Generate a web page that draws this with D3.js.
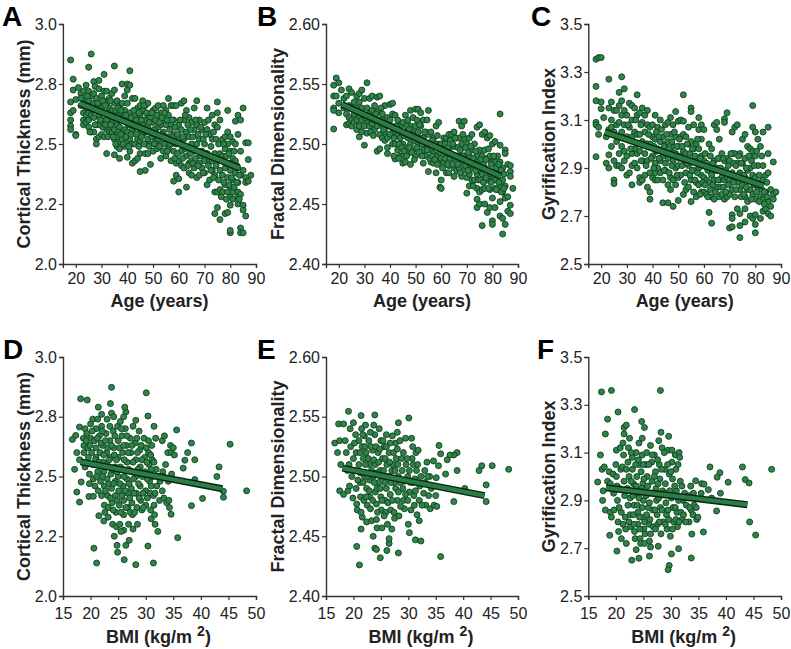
<!DOCTYPE html>
<html>
<head>
<meta charset="utf-8">
<script src="https://cdn.jsdelivr.net/npm/d3@7"></script>
<style>
body { margin: 0; background: #fff; }
text { font-family: "Liberation Sans", Arial, sans-serif; fill: #222; }
</style>
</head>
<body>
<div id="canvas"></div>
<script>
"use strict"

/* points, [age or bmi, value] */
let ageThickness = [[18,2.85],[18,2.675],[18,2.63],[18,2.6],[18,2.575],[18,2.56],[19,2.77],[19,2.725],[19,2.64],[20,2.685],[20,2.54],[20,2.535],[21,2.735],[22,2.71],[22,2.69],[22,2.66],[23,2.72],[23,2.63],[23,2.6],[23,2.58],[24,2.745],[24,2.68],[24,2.65],[24,2.62],[24,2.59],[25,2.82],[25,2.72],[25,2.68],[25,2.63],[25,2.6],[25,2.57],[26,2.875],[26,2.7],[26,2.66],[26,2.62],[26,2.55],[27,2.76],[27,2.71],[27,2.67],[27,2.61],[27.5,2.74],[27,2.55],[28,2.69],[28,2.64],[28,2.58],[28,2.52],[28,2.5],[29,2.765],[29,2.73],[29,2.66],[29,2.62],[29,2.58],[29,2.53],[30,2.7],[30,2.65],[30,2.6],[30,2.54],[31,2.79],[31,2.72],[31,2.68],[31,2.63],[31,2.53],[32,2.72],[32,2.67],[32,2.6],[32,2.56],[32,2.46],[33,2.69],[33,2.65],[33,2.62],[33,2.57],[33,2.55],[34,2.71],[34,2.64],[34,2.59],[34,2.55],[35,2.825],[35,2.725],[35,2.67],[35,2.61],[35,2.56],[35,2.52],[35,2.455],[36,2.68],[36,2.63],[36,2.58],[36,2.53],[36,2.49],[37,2.66],[37,2.62],[37,2.57],[37,2.51],[37,2.48],[37,2.44],[38,2.75],[38,2.67],[38,2.63],[38,2.55],[38,2.52],[39,2.7],[39,2.64],[39,2.6],[39,2.56],[39,2.49],[40,2.75],[40,2.725],[40,2.67],[40,2.61],[40,2.55],[40,2.51],[40,2.445],[41,2.805],[41,2.745],[41,2.63],[41,2.59],[41,2.52],[41,2.47],[42,2.69],[42,2.61],[42,2.56],[42,2.5],[42,2.42],[43,2.69],[43,2.62],[43,2.57],[43,2.5],[43,2.43],[44,2.65],[44,2.59],[44,2.52],[44,2.44],[45,2.66],[45,2.62],[45,2.56],[45,2.51],[45,2.46],[45,2.385],[46,2.68],[46,2.64],[46,2.58],[46,2.54],[47,2.66],[47,2.6],[47,2.5],[47,2.46],[47,2.39],[48,2.67],[48,2.62],[48,2.57],[48,2.52],[48,2.46],[49,2.61],[49,2.55],[49,2.5],[49,2.415],[50,2.64],[50,2.59],[50,2.53],[50,2.47],[51,2.65],[51,2.6],[51,2.56],[51,2.51],[52,2.66],[52,2.62],[52,2.57],[52,2.52],[53,2.63],[53,2.58],[53,2.5],[53,2.44],[54,2.66],[54,2.6],[54,2.55],[54,2.47],[55,2.64],[55,2.58],[55,2.52],[55,2.45],[56,2.69],[56,2.62],[56,2.53],[56,2.48],[57,2.66],[57,2.58],[57,2.5],[57,2.43],[58,2.66],[58,2.6],[58,2.54],[58,2.47],[58,2.345],[59,2.66],[59,2.57],[59,2.5],[59,2.42],[59,2.37],[60,2.58],[60,2.52],[60,2.43],[60,2.355],[60,2.3],[61,2.67],[61,2.56],[61,2.47],[61,2.41],[62,2.68],[62,2.6],[62,2.52],[62,2.4],[63,2.64],[63,2.55],[63,2.45],[63,2.32],[64,2.61],[64,2.53],[64,2.42],[64,2.38],[65,2.59],[65,2.5],[65,2.43],[65,2.37],[66,2.65],[66,2.56],[66,2.47],[66,2.4],[67,2.68],[67,2.58],[67,2.5],[67,2.36],[68,2.6],[68,2.52],[68,2.42],[68,2.37],[69,2.56],[69,2.47],[69,2.4],[70,2.59],[70,2.5],[70,2.43],[70,2.38],[71,2.65],[71,2.56],[71,2.46],[71,2.33],[72,2.54],[72,2.43],[72,2.35],[73,2.62],[73,2.52],[73,2.43],[73,2.39],[74,2.58],[74,2.46],[74,2.37],[74,2.3],[74,2.21],[75,2.675],[75,2.63],[75,2.57],[75,2.44],[75,2.235],[75,2.3],[76,2.6],[76,2.46],[76,2.39],[76,2.31],[76,2.185],[77,2.52],[77,2.45],[77,2.37],[77,2.3],[78,2.53],[78,2.48],[78,2.4],[78,2.33],[78,2.21],[79,2.64],[79,2.55],[79,2.5],[79,2.42],[79,2.36],[79,2.3],[79,2.215],[80,2.53],[80,2.47],[80,2.39],[80,2.32],[80,2.28],[80,2.245],[80,2.13],[80,2.14],[81,2.51],[81,2.44],[81,2.35],[81,2.3],[81,2.27],[82,2.595],[82,2.5],[82,2.43],[82,2.38],[83,2.62],[83,2.54],[83,2.4],[83,2.34],[83,2.3],[83,2.25],[83,2.28],[84,2.6],[84,2.47],[84,2.37],[84,2.29],[84,2.15],[84,2.13],[85,2.65],[85,2.39],[85,2.245],[85,2.225],[85,2.13],[86,2.505],[86,2.36],[86,2.34],[86,2.2],[87,2.505],[87,2.435],[87,2.345],[88,2.37],
[24.5,2.7],[25.5,2.55],[26.5,2.64],[27.5,2.58],[28.5,2.67],[29.5,2.6],[30.5,2.68],[30.5,2.57],[31.5,2.66],[31.5,2.58],[32.5,2.63],[32.5,2.53],[33.5,2.68],[33.5,2.58],[34.5,2.62],[34.5,2.53],[35.5,2.64],[35.5,2.5],[36.5,2.65],[36.5,2.55],[37.5,2.64],[37.5,2.54],[38.5,2.6],[38.5,2.5],[39.5,2.62],[39.5,2.53],[40.5,2.58],[40.5,2.49],[41.5,2.61],[41.5,2.54],[42.5,2.64],[42.5,2.58],[43.5,2.6],[43.5,2.54],[44.5,2.63],[44.5,2.49],[45.5,2.6],[45.5,2.53],[46.5,2.66],[46.5,2.5],[47.5,2.63],[47.5,2.55],[48.5,2.59],[48.5,2.49],[49.5,2.63],[49.5,2.53],[50.5,2.56],[50.5,2.5],[51.5,2.62],[51.5,2.48],[52.5,2.59],[52.5,2.49],[53.5,2.61],[53.5,2.54],[54.5,2.63],[54.5,2.5],[55.5,2.6],[55.5,2.47],[56.5,2.56],[56.5,2.5],[57.5,2.6],[57.5,2.53],[58.5,2.57],[58.5,2.44],[59.5,2.54],[59.5,2.46],[60.5,2.6],[60.5,2.5],[61.5,2.53],[61.5,2.44],[62.5,2.62],[62.5,2.48],[63.5,2.58],[63.5,2.41],[64.5,2.56],[64.5,2.46],[65.5,2.53],[65.5,2.42],[66.5,2.6],[66.5,2.44],[67.5,2.54],[67.5,2.41],[68.5,2.57],[68.5,2.45],[69.5,2.52],[69.5,2.38],[70.5,2.54],[70.5,2.46],[71.5,2.6],[71.5,2.41],[72.5,2.49],[72.5,2.39],[73.5,2.55],[73.5,2.36],[74.5,2.52],[74.5,2.41],[75.5,2.5],[75.5,2.35],[76.5,2.43],[76.5,2.28],[77.5,2.5],[77.5,2.34],[78.5,2.45],[78.5,2.27],[79.5,2.46],[79.5,2.33],[80.5,2.42],[80.5,2.36],[81.5,2.47],[81.5,2.32],[82.5,2.41],[82.5,2.34],[83.5,2.37],[83.5,2.27]]

let ageFractal = [[18,2.5125],[18,2.549],[18,2.54],[18,2.53],[18,2.528],[19,2.555],[19,2.54],[20,2.551],[20,2.534],[20,2.526],[21,2.545],[22,2.538],[22,2.53],[23,2.54],[23,2.525],[23,2.516],[24,2.546],[24,2.532],[24,2.522],[24,2.517],[25,2.543],[25,2.53],[25,2.52],[25,2.515],[26,2.535],[26,2.525],[26,2.518],[27,2.54],[27,2.53],[27,2.52],[27,2.512],[28,2.542],[28,2.535],[28,2.523],[28,2.515],[28,2.506],[29,2.545],[29,2.53],[29,2.52],[29,2.51],[30,2.538],[30,2.515],[30,2.499],[31,2.551],[31,2.53],[31,2.52],[31,2.509],[32,2.538],[32,2.525],[32,2.515],[33,2.54],[33,2.528],[33,2.517],[34,2.532],[34,2.52],[34,2.512],[35,2.539],[35,2.527],[35,2.515],[35,2.494],[36,2.54],[36,2.52],[36,2.508],[36,2.496],[37,2.525],[37,2.515],[37,2.505],[38,2.532],[38,2.52],[38,2.51],[38,2.503],[39,2.522],[39,2.515],[39,2.505],[39,2.497],[39,2.492],[40,2.533],[40,2.52],[40,2.508],[41,2.534],[41,2.525],[41,2.513],[41,2.5],[42,2.524],[42,2.51],[42,2.5],[42,2.4875],[43,2.52],[43,2.508],[43,2.495],[44,2.515],[44,2.505],[44,2.49],[45,2.518],[45,2.5],[45,2.49],[45,2.484],[46,2.524],[46,2.51],[46,2.497],[46,2.485],[47,2.52],[47,2.505],[47,2.492],[48,2.528],[48,2.515],[48,2.5],[48,2.483],[49,2.522],[49,2.51],[49,2.495],[50,2.529],[50,2.515],[50,2.505],[50,2.49],[51,2.529],[51,2.51],[51,2.5],[52,2.526],[52,2.515],[52,2.505],[53,2.52],[53,2.505],[53,2.495],[53,2.484],[54,2.51],[54,2.5],[54,2.49],[55,2.528],[55,2.508],[55,2.495],[55,2.477],[56,2.51],[56,2.495],[56,2.485],[57,2.505],[57,2.492],[57,2.484],[58,2.515],[58,2.5],[58,2.49],[58,2.476],[59,2.518],[59,2.5],[59,2.485],[59.5,2.464],[60,2.5],[60,2.488],[60,2.47],[60,2.463],[61,2.505],[61,2.495],[61,2.485],[62,2.505],[62,2.49],[62,2.476],[63,2.508],[63,2.495],[63,2.482],[63,2.476],[64,2.508],[64,2.49],[65,2.51],[65,2.498],[65,2.48],[65,2.473],[66,2.505],[66,2.49],[66,2.478],[67,2.519],[67,2.505],[67,2.49],[67,2.48],[68,2.515],[68,2.5],[68,2.485],[68,2.473],[69,2.519],[69,2.505],[69,2.49],[69,2.478],[70,2.5],[70,2.485],[70,2.472],[70,2.459],[71,2.505],[71,2.49],[71,2.475],[71,2.465],[72,2.508],[72,2.495],[72,2.48],[72,2.47],[73,2.5],[73,2.487],[73,2.47],[74,2.514],[74,2.49],[74,2.475],[74,2.463],[74,2.454],[74,2.447],[75,2.516],[75,2.495],[75,2.478],[75,2.46],[75,2.45],[76,2.508],[76,2.49],[76,2.475],[76,2.462],[76,2.432],[77,2.51],[77,2.495],[77,2.48],[77,2.463],[77,2.45],[78,2.505],[78,2.488],[78,2.47],[78,2.443],[79,2.507],[79,2.49],[79,2.475],[79,2.462],[79,2.447],[80,2.5],[80,2.485],[80,2.47],[80,2.455],[80,2.436],[80,2.433],[81,2.502],[81,2.485],[81,2.47],[81,2.447],[81,2.463],[82,2.49],[82,2.475],[82,2.462],[83,2.525],[83,2.499],[83,2.485],[83,2.465],[83,2.452],[83,2.44],[84,2.48],[84,2.47],[84,2.46],[84,2.438],[84,2.425],[85,2.495],[85,2.492],[85,2.465],[85,2.455],[85,2.433],[86,2.483],[86,2.456],[86,2.444],[87,2.482],[87,2.477],[87,2.473],[87,2.449],[87,2.442],[88,2.463],
[29.5,2.525],[30.5,2.522],[32.5,2.51],[33.5,2.507],[34.5,2.525],[36.5,2.53],[37.5,2.512],[40.5,2.515],[41.5,2.505],[41.5,2.49],[42.5,2.515],[43.5,2.5],[43.5,2.488],[44.5,2.497],[44.5,2.51],[45.5,2.507],[45.5,2.494],[46.5,2.515],[46.5,2.49],[47.5,2.512],[47.5,2.497],[48.5,2.508],[48.5,2.493],[49.5,2.503],[49.5,2.487],[50.5,2.52],[50.5,2.497],[51.5,2.516],[51.5,2.493],[52.5,2.5],[52.5,2.49],[53.5,2.51],[54.5,2.52],[54.5,2.495],[55.5,2.5],[55.5,2.488],[56.5,2.503],[56.5,2.49],[57.5,2.5],[57.5,2.487],[58.5,2.507],[58.5,2.483],[59.5,2.493],[60.5,2.495],[60.5,2.48],[61.5,2.5],[61.5,2.488],[62.5,2.497],[62.5,2.483],[63.5,2.503],[63.5,2.488],[64.5,2.5],[64.5,2.483],[65.5,2.505],[65.5,2.488],[66.5,2.497],[66.5,2.483],[67.5,2.495],[67.5,2.476],[68.5,2.508],[68.5,2.49],[69.5,2.497],[69.5,2.482],[70.5,2.493],[70.5,2.478],[71.5,2.498],[71.5,2.483],[72.5,2.488],[72.5,2.465],[73.5,2.494],[73.5,2.478],[74.5,2.483],[74.5,2.47],[75.5,2.487],[75.5,2.47],[76.5,2.483],[76.5,2.468],[77.5,2.487],[77.5,2.472],[78.5,2.496],[78.5,2.463],[79.5,2.483],[79.5,2.468],[80.5,2.477],[80.5,2.49],[81.5,2.48],[81.5,2.462],[82.5,2.483],[82.5,2.468],[83.5,2.478],[83.5,2.46],[84.5,2.475],[84.5,2.463]]

let ageGyrification = [[18,3.353],[18,3.24],[18,3.18],[18,3.09],[18,3.08],[18,2.947],[19,3.36],[19,3.07],[19,3.04],[20,3.36],[20,3.175],[20,3.147],[21,3.11],[22,3.03],[22,2.92],[23,3.27],[23,3.15],[23,3.06],[23,2.955],[23,2.9],[24,3.175],[24,3.1],[24,3.07],[24,2.99],[25,3.14],[25,3.05],[25,2.93],[25,2.85],[25,2.835],[26,3.14],[26,3.08],[26,3.01],[26,2.91],[27,3.215],[27,3.16],[27,3.09],[27,3.03],[27,2.96],[27,2.91],[28,3.28],[28,3.18],[28,3.12],[28,3.05],[28,2.99],[28,2.9],[29,3.23],[29,3.14],[29,3.08],[29,2.97],[29,2.93],[30,3.12],[30,3.03],[30,2.95],[30,2.87],[31,3.17],[31,3.07],[31,3.02],[31,2.88],[32,3.16],[32,3.1],[32,3.03],[32,2.96],[32,2.91],[32,2.83],[33,3.15],[33,3.05],[33,2.98],[33,2.92],[34,3.205],[34,3.12],[34,3.04],[34,2.96],[34,2.9],[35,3.13],[35,3.04],[35,2.97],[35,2.86],[35,2.84],[36,3.15],[36,3.09],[36,3.01],[36,2.93],[36,2.85],[37,3.12],[37,3.05],[37,2.96],[37,2.87],[38,3.14],[38,3.08],[38,3.0],[38,2.93],[38,2.82],[39,3.07],[39,3.0],[39,2.88],[39,2.77],[39,2.8],[40,3.08],[40,3.03],[40,2.95],[40,2.86],[41,3.12],[41,3.02],[41,2.92],[41,2.88],[41,2.85],[42,3.07],[42,2.98],[42,2.9],[42,2.85],[43,3.1],[43,3.01],[43,2.93],[43,2.88],[44,3.03],[44,2.95],[44,2.85],[44,2.755],[45,3.08],[45,3.0],[45,2.92],[45,2.89],[46,3.09],[46,3.01],[46,2.94],[46,2.83],[46,2.755],[47,3.11],[47,3.04],[47,2.97],[47,2.86],[47,2.81],[48,3.08],[48,2.99],[48,2.93],[48,2.85],[48,2.74],[49,3.135],[49,3.03],[49,2.96],[49,2.9],[49,2.83],[50,3.095],[50,2.99],[50,2.91],[50,2.86],[50,2.765],[51,3.1],[51,3.03],[51,2.95],[51,2.87],[52,3.205],[52,3.095],[52,3.04],[52,2.97],[52,2.79],[53,3.03],[53,2.96],[53,2.88],[53,2.81],[54,3.07],[54,3.0],[54,2.91],[54,2.82],[55,3.15],[55,3.135],[55,3.01],[55,2.93],[55,2.85],[55,2.76],[56,3.08],[56,2.98],[56,2.89],[56,2.8],[57,3.0],[57,2.93],[57,2.84],[57,2.78],[58,3.11],[58,3.06],[58,2.98],[58,2.9],[58,2.83],[59,3.08],[59,3.02],[59,2.95],[59,2.87],[59,2.8],[60,3.06],[60,2.93],[60,2.86],[60,2.8],[61,2.92],[61,2.85],[61,2.79],[62,3.0],[62,2.9],[62,2.84],[62,2.715],[63,2.98],[63,2.87],[63,2.78],[63,2.67],[64,3.08],[64,2.93],[64,2.85],[64,2.77],[65,3.09],[65,3.06],[65,2.9],[65,2.82],[66,3.02],[66,2.94],[66,2.85],[66,2.78],[67,2.96],[67,2.86],[67,2.79],[68,3.105],[68,3.09],[68,2.93],[68,2.85],[68,2.77],[69,3.13],[69,2.94],[69,2.86],[69,2.78],[70,2.93],[70,2.85],[70,2.79],[70,2.65],[71,3.05],[71,2.96],[71,2.88],[71,2.81],[71,2.705],[71,2.69],[71,2.655],[72,3.07],[72,2.96],[72,2.86],[72,2.78],[73,3.08],[73,2.92],[73,2.84],[73,2.73],[74,2.96],[74,2.88],[74,2.81],[74,2.71],[74,2.66],[74,2.61],[75,3.02],[75,2.92],[75,2.83],[76,3.04],[76,2.94],[76,2.86],[76,2.78],[76,2.73],[76,2.675],[77,2.99],[77,2.89],[77,2.81],[77,2.76],[78,2.98],[78,2.9],[78,2.81],[78,2.7],[79,3.16],[79,3.07],[79,2.97],[79,2.87],[79,2.79],[79,2.69],[80,3.05],[80,2.95],[80,2.86],[80,2.77],[80,2.705],[80,2.665],[80,2.63],[81,3.02],[81,2.91],[81,2.82],[82,2.99],[82,2.84],[82,2.78],[82,2.69],[83,3.05],[83,2.91],[83,2.85],[83,2.77],[83,2.72],[84,2.87],[84,2.8],[84,2.73],[85,3.07],[85,2.96],[85,2.88],[85,2.76],[85,2.71],[86,2.81],[86,2.74],[86,2.7],[87,2.925],[87,2.79],[87,2.77],[88,2.8],
[30.5,3.08],[31.5,2.98],[33.5,3.1],[34.5,3.0],[35.5,3.08],[35.5,2.93],[37.5,3.0],[37.5,2.91],[38.5,3.04],[39.5,2.94],[40.5,2.99],[40.5,2.9],[41.5,3.05],[41.5,2.97],[42.5,3.03],[42.5,2.94],[43.5,3.06],[43.5,2.97],[44.5,2.99],[44.5,2.89],[45.5,3.04],[45.5,2.96],[46.5,2.98],[46.5,2.88],[47.5,3.01],[47.5,2.91],[48.5,3.05],[48.5,2.96],[49.5,2.99],[49.5,2.87],[50.5,3.02],[50.5,2.94],[51.5,2.99],[51.5,2.91],[52.5,2.93],[52.5,2.84],[53.5,3.0],[53.5,2.92],[54.5,2.96],[54.5,2.87],[55.5,2.98],[55.5,2.89],[56.5,2.95],[56.5,2.85],[57.5,3.02],[57.5,2.88],[58.5,2.94],[58.5,2.79],[59.5,2.91],[59.5,2.84],[60.5,2.96],[60.5,2.83],[61.5,2.89],[61.5,2.78],[62.5,2.95],[62.5,2.81],[63.5,2.92],[63.5,2.83],[64.5,2.89],[64.5,2.8],[65.5,2.94],[65.5,2.85],[66.5,2.9],[66.5,2.82],[67.5,2.94],[67.5,2.82],[68.5,2.89],[68.5,2.8],[69.5,2.91],[69.5,2.83],[70.5,2.96],[70.5,2.87],[71.5,2.92],[71.5,2.84],[72.5,2.91],[72.5,2.81],[73.5,2.95],[73.5,2.87],[74.5,2.92],[74.5,2.78],[75.5,2.87],[75.5,2.79],[76.5,2.9],[76.5,2.82],[77.5,2.95],[77.5,2.85],[78.5,2.93],[78.5,2.77],[79.5,2.91],[79.5,2.83],[80.5,2.97],[80.5,2.8],[81.5,2.87],[81.5,2.76],[82.5,2.95],[82.5,2.81],[83.5,2.8],[83.5,2.75],[84.5,2.84],[84.5,2.78]]

let bmiThickness = [[23.8,2.873],[30.1,2.85],[18.2,2.825],[19.4,2.82],[21.4,2.79],[23.6,2.805],[26.4,2.77],[23.8,2.765],[30.4,2.753],[28.2,2.735],[26,2.75],[31.5,2.71],[35.6,2.695],[16.7,2.655],[17.3,2.672],[18,2.707],[38.3,2.64],[45.3,2.635],[37.6,2.6],[38.9,2.57],[37.1,2.568],[36.8,2.535],[43.3,2.54],[42.9,2.5],[38.9,2.487],[44.1,2.438],[44.1,2.413],[48.3,2.44],[40.3,2.408],[38.3,2.378],[34.6,2.342],[17.1,2.53],[18.3,2.477],[17.5,2.435],[18,2.393],[19.7,2.416],[20.5,2.417],[21.5,2.336],[22.4,2.314],[32.2,2.27],[35.8,2.244],[24.3,2.25],[20.6,2.2],[24.8,2.212],[24.9,2.183],[26.1,2.152],[21.1,2.138],[28.2,2.131],[31.4,2.138],[30.4,2.209],[26.4,2.212],[27,2.233],[26,2.275],[31,2.323],[31.7,2.3],
[17.5,2.6],[18,2.57],[18.7,2.66],[18.8,2.63],[18.8,2.6],[19,2.54],[19,2.7],[19.3,2.68],[19.5,2.62],[19.6,2.58],[19.8,2.51],[19.8,2.47],[20,2.72],[20,2.66],[20.2,2.6],[20.4,2.74],[20.5,2.55],[20.5,2.49],[20.7,2.65],[20.8,2.46],[21,2.7],[21,2.62],[21,2.58],[21.3,2.74],[21.3,2.52],[21.4,2.44],[21.6,2.67],[21.7,2.6],[21.8,2.48],[22,2.76],[22,2.71],[22,2.42],[22.2,2.63],[22.3,2.56],[22.4,2.52],[22.5,2.46],[22.5,2.38],[22.6,2.35],[22.8,2.68],[22.9,2.6],[23,2.74],[23,2.55],[23,2.49],[23.1,2.42],[23.2,2.37],[23.2,2.33],[23.5,2.65],[23.5,2.71],[23.6,2.58],[23.7,2.51],[23.8,2.45],[23.9,2.39],[24,2.3],[24.1,2.69],[24.2,2.62],[24.2,2.75],[24.4,2.54],[24.5,2.48],[24.5,2.42],[24.6,2.35],[24.7,2.29],[24.9,2.71],[25,2.65],[25,2.58],[25,2.5],[25.1,2.44],[25.2,2.38],[25.3,2.3],[25.4,2.73],[25.5,2.27],[25.7,2.67],[25.8,2.6],[25.8,2.53],[25.9,2.46],[26,2.4],[26,2.34],[26.2,2.79],[26.3,2.7],[26.5,2.63],[26.6,2.56],[26.6,2.49],[26.7,2.43],[26.8,2.37],[26.9,2.3],[27.2,2.66],[27.3,2.6],[27.4,2.52],[27.4,2.45],[27.5,2.39],[27.6,2.34],[27.7,2.28],[27.7,2.71],[28.1,2.64],[28.2,2.57],[28.2,2.5],[28.3,2.43],[28.4,2.37],[28.5,2.3],[28.8,2.69],[28.9,2.61],[29,2.54],[29,2.46],[29.1,2.4],[29.3,2.36],[29.7,2.66],[29.8,2.58],[29.9,2.52],[30,2.44],[30,2.38],[30.5,2.65],[30.5,2.6],[30.6,2.55],[30.7,2.48],[30.8,2.43],[30.9,2.36],[31.1,2.63],[31.2,2.57],[31.3,2.5],[31.4,2.42],[31.5,2.38],[31.6,2.34],[31.8,2.66],[31.9,2.53],[32,2.46],[32.5,2.4],[33,2.65],[33.1,2.52],[33.2,2.5],[33.3,2.41],[33.4,2.67],[33.6,2.55],[33.8,2.39],[34,2.6],[34.1,2.48],[34.3,2.37],[34.5,2.63],[34.6,2.6],[34.7,2.51],[35,2.62],[35.2,2.59],
[19.2,2.65],[19.9,2.63],[20.3,2.69],[20.9,2.57],[21.1,2.5],[21.2,2.66],[21.5,2.56],[21.9,2.64],[22.1,2.69],[22.2,2.5],[22.4,2.59],[22.7,2.44],[22.7,2.65],[23.1,2.62],[23.3,2.47],[23.4,2.57],[23.6,2.41],[23.8,2.63],[23.9,2.53],[24.1,2.36],[24.2,2.47],[24.3,2.59],[24.4,2.67],[24.7,2.57],[24.8,2.4],[24.8,2.52],[25.2,2.62],[25.3,2.47],[25.4,2.54],[25.5,2.35],[25.6,2.7],[25.7,2.42],[26,2.63],[26.1,2.57],[26.1,2.5],[26.3,2.44],[26.4,2.37],[26.6,2.67],[26.8,2.6],[26.9,2.53],[27,2.47],[27.1,2.41],[27.2,2.35],[27.5,2.63],[27.7,2.56],[27.8,2.49],[27.9,2.43],[28,2.35],[28.4,2.66],[28.5,2.6],[28.6,2.53],[28.7,2.47],[28.8,2.41],[29.2,2.63],[29.3,2.57],[29.4,2.5],[29.5,2.43],[29.6,2.37],[30.1,2.62],[30.2,2.56],[30.3,2.49],[30.3,2.41],[30.9,2.59],[31,2.53],[31,2.46],[31.5,2.56],[31.7,2.43],[32.2,2.5],[32.6,2.48],[33,2.44],[34.2,2.4]]

let bmiFractal = [[19.1,2.5545],[21.4,2.551],[23.9,2.5515],[30.1,2.549],[17.3,2.544],[18.2,2.544],[28.2,2.545],[21.1,2.426],[20.6,2.4415],[23.9,2.44],[24.2,2.439],[24.9,2.432],[28.2,2.436],[26.1,2.438],[35.9,2.433],[26.5,2.444],[26.5,2.448],[31.3,2.447],[32.3,2.446],[23.6,2.45],[16.6,2.528],[17.5,2.53],[17.1,2.52],[17.7,2.51],[17.5,2.488],[18.2,2.485],[35.6,2.526],[35.9,2.519],[38.9,2.52],[38.3,2.518],[37.6,2.518],[37.1,2.514],[35.5,2.509],[42.9,2.505],[43.4,2.509],[45.3,2.509],[48.3,2.506],[38.9,2.505],[36.8,2.502],[44.2,2.493],[40.3,2.49],[44.2,2.479],[38.3,2.479],[35,2.484],[21.4,2.456],[22.4,2.462],[23.3,2.463],[24.2,2.464],
[18.5,2.53],[18.7,2.52],[18.9,2.505],[19,2.488],[19.4,2.54],[19.5,2.525],[19.7,2.5],[19.9,2.482],[20,2.545],[20,2.515],[20.4,2.535],[20.5,2.52],[20.5,2.49],[20.6,2.477],[20.7,2.472],[21,2.53],[21,2.51],[21.2,2.495],[21.3,2.483],[21.5,2.54],[21.6,2.525],[21.6,2.466],[21.8,2.515],[21.9,2.48],[22,2.534],[22,2.5],[22.2,2.543],[22.3,2.52],[22.4,2.49],[22.5,2.476],[22.8,2.53],[22.9,2.51],[23,2.497],[23,2.483],[23.1,2.473],[23.5,2.522],[23.6,2.5],[23.7,2.543],[23.9,2.535],[24,2.51],[24,2.487],[24.2,2.477],[24.3,2.457],[24.5,2.52],[24.6,2.495],[24.7,2.54],[24.9,2.505],[25,2.53],[25,2.483],[25.1,2.472],[25.2,2.457],[25.3,2.515],[25.6,2.525],[25.7,2.495],[25.8,2.48],[25.9,2.47],[26,2.535],[26.1,2.51],[26.2,2.46],[26.5,2.52],[26.6,2.5],[26.7,2.485],[26.8,2.472],[27,2.456],[27.1,2.534],[27.2,2.51],[27.4,2.495],[27.5,2.465],[27.7,2.528],[27.8,2.515],[28,2.537],[28,2.48],[28.2,2.5],[28.3,2.467],[28.5,2.53],[28.8,2.515],[29,2.49],[29.1,2.48],[29.3,2.473],[29.5,2.532],[29.6,2.51],[29.9,2.5],[30,2.46],[30.2,2.487],[30.2,2.453],[30.6,2.532],[30.7,2.515],[30.8,2.525],[30.9,2.495],[31,2.484],[31.1,2.476],[31.4,2.52],[31.5,2.505],[31.6,2.468],[31.8,2.522],[32,2.48],[32,2.463],[32.3,2.5],[32.8,2.486],[33,2.505],[33.2,2.476],[33.4,2.512],[33.7,2.484],[33.9,2.5],[34,2.473],[34.2,2.49],[34.6,2.513],[34.7,2.476],[35.1,2.499],[35.2,2.475],
[19.2,2.51],[19.3,2.492],[20.2,2.528],[20.3,2.505],[20.8,2.497],[21.2,2.52],[21.3,2.503],[21.4,2.47],[21.7,2.535],[21.8,2.495],[22.1,2.525],[22.2,2.51],[22.3,2.483],[22.6,2.5],[22.7,2.515],[22.9,2.488],[23.1,2.537],[23.2,2.525],[23.3,2.505],[23.5,2.48],[23.7,2.514],[23.8,2.495],[24.1,2.525],[24.2,2.503],[24.3,2.49],[24.4,2.47],[24.6,2.512],[24.8,2.523],[24.9,2.49],[25.1,2.5],[25.2,2.48],[25.4,2.53],[25.5,2.505],[25.6,2.467],[25.8,2.515],[26,2.49],[26,2.525],[26.2,2.5],[26.3,2.478],[26.6,2.512],[26.7,2.528],[26.8,2.495],[27,2.505],[27.1,2.48],[27.3,2.52],[27.4,2.47],[27.6,2.505],[27.7,2.49],[28,2.523],[28.1,2.51],[28.2,2.487],[28.5,2.495],[28.6,2.475],[28.9,2.505],[29.1,2.52],[29.3,2.496],[29.5,2.485],[29.8,2.515],[29.9,2.48],[30.2,2.505],[30.4,2.495],[30.5,2.472],[30.9,2.51],[31.2,2.498],[31.3,2.488],[31.7,2.51],[32.1,2.492],[32.5,2.476],[33.1,2.495],[33.5,2.5]]

let bmiGyrification = [[17.4,3.354],[19.2,3.36],[28.1,3.36],[20.4,3.27],[23.4,3.28],[18.5,3.24],[24.7,3.23],[25.2,3.205],[21.5,3.205],[21.9,3.215],[18.1,3.178],[21.5,3.178],[28.2,3.185],[29.6,3.168],[17.2,3.09],[16.7,2.977],[17.7,2.94],[17.6,2.9],[18.1,2.86],[18.9,2.754],[20.2,2.688],[22.9,2.65],[24.2,2.658],[23.7,2.694],[26.1,2.667],[27.7,2.708],[26.3,2.705],[30.1,2.676],[31.4,2.698],[33.7,2.659],[29.7,2.628],[29.5,2.61],[35.9,2.768],[33.8,2.759],[44.3,2.81],[45.4,2.755],[48.3,3.03],[43,3.04],[43.5,2.987],[44.2,2.973],[37.1,3.04],[38.9,3.016],[38.4,2.997],[40.4,2.976],[39,2.93],[36.8,2.945],[38.3,2.856],[34.5,2.982],[35.6,2.97],[36,2.968],
[17.5,3.03],[17.9,3.04],[18.5,2.98],[18.8,3.02],[19,2.85],[19.2,2.83],[19.5,3.01],[19.7,2.86],[20,3.05],[20.1,3.11],[20.2,2.96],[20.3,2.9],[20.4,2.81],[20.5,2.77],[20.8,3.12],[20.9,3.03],[21,2.85],[21,2.74],[21.3,3.14],[21.4,3.09],[21.5,2.98],[21.6,2.92],[21.7,2.83],[21.8,2.78],[21.9,2.72],[22.2,3.06],[22.3,3.12],[22.4,3.0],[22.5,3.16],[22.6,2.91],[22.6,2.84],[22.7,2.79],[23,3.08],[23,3.03],[23.2,2.97],[23.3,2.88],[23.4,2.77],[23.5,2.74],[23.7,3.1],[23.8,3.0],[23.9,2.93],[24,2.85],[24,2.8],[24.2,3.14],[24.3,3.05],[24.4,2.74],[24.5,2.72],[24.8,3.16],[24.8,3.09],[24.9,2.97],[25,2.9],[25,2.83],[25.1,2.78],[25.2,2.72],[25.5,3.05],[25.6,3.1],[25.7,3],[25.8,2.93],[25.9,2.87],[26,2.8],[26.1,2.73],[26.3,3.13],[26.5,3.06],[26.6,2.98],[26.7,2.86],[26.8,2.79],[27,3.09],[27.2,3.02],[27.3,2.95],[27.4,2.9],[27.5,2.84],[27.6,2.8],[27.8,3.15],[27.9,3.05],[28,2.99],[28.1,2.87],[28.2,2.76],[28.4,3.12],[28.5,2.94],[28.6,2.81],[28.9,3.03],[29,2.97],[29.1,2.89],[29.2,2.84],[29.3,2.78],[29.5,3.11],[29.7,3.01],[29.8,2.94],[29.9,2.75],[30.2,3.11],[30.2,3.06],[30.3,2.99],[30.4,2.87],[30.5,2.81],[30.8,3.09],[30.9,3.03],[31,2.94],[31.1,2.85],[31.2,2.79],[31.5,3.1],[31.6,3.08],[31.7,2.98],[31.8,2.85],[32,2.82],[32.2,2.9],[32.5,2.93],[32.8,2.88],[33.3,2.81],[33.6,2.96],[33.7,2.86],[34.1,2.93],[34.2,2.88],[34.6,2.87],[34.7,2.82],[34.9,2.83],[35.5,2.93],[37.4,2.91],
[19,2.97],[19.6,2.93],[20.1,3],[20.6,2.87],[20.7,2.95],[21.2,3.04],[21.3,2.8],[21.9,3.03],[22.1,2.95],[22.2,2.88],[22.4,2.81],[22.8,3.1],[22.8,2.98],[23.1,2.92],[23.2,2.84],[23.3,2.8],[23.6,3.05],[23.7,2.96],[23.9,2.88],[24.1,3.07],[24.2,2.91],[24.3,2.83],[24.4,2.78],[24.6,3.02],[24.7,2.95],[24.8,2.87],[25,3.05],[25.1,2.99],[25.2,2.81],[25.3,2.76],[25.5,2.92],[25.6,2.84],[25.8,2.96],[26,3.05],[26.1,2.89],[26.2,2.82],[26.3,2.76],[26.6,3.09],[26.7,2.93],[27,3],[27.1,2.86],[27.2,2.78],[27.6,3.07],[27.7,2.97],[27.8,2.91],[27.9,2.81],[28.3,3.03],[28.4,2.86],[28.8,3.1],[28.9,2.93],[29,2.8],[29.4,3.05],[29.5,2.86],[29.6,2.82],[30,3.02],[30.1,2.91],[30.3,2.78],[30.7,2.96],[30.8,2.87],[30.9,2.82],[31.3,3.05],[31.4,2.9],[31.5,2.81],[32,2.96],[32.3,2.84],[32.7,2.81],[33.2,2.92],[33.4,2.87],[34,2.84],[34.4,2.91]]

let fitAgeThickness = [[21.5,2.67],[83.5,2.4]]
let fitAgeFractal = [[21.2,2.533],[83.3,2.473]]
let fitAgeGyrification = [[21.4,3.05],[83.3,2.825]]
let fitBmiThickness = [[18.2,2.561],[43.9,2.449]]
let fitBmiFractal = [[18,2.507],[43.9,2.484]]
let fitBmiGyrification = [[18.2,2.953],[43.9,2.882]]

let ageTicks = [20,30,40,50,60,70,80,90]
let bmiTicks = [15,20,25,30,35,40,45,50]
let thicknessTicks = [2.0,2.25,2.5,2.75,3.0]
let thicknessLabels = ["2.0","2.2","2.5","2.8","3.0"]
let fractalTicks = [2.40,2.45,2.50,2.55,2.60]
let fractalLabels = ["2.40","2.45","2.50","2.55","2.60"]
let gyrificationTicks = [2.5,2.7,2.9,3.1,3.3,3.5]
let gyrificationLabels = ["2.5","2.7","2.9","3.1","3.3","3.5"]

let svg = d3.select("#canvas")
    .append("svg")
    .attr("width", 791)
    .attr("height", 649)
    .style("display", "block")

/* one panel: left/right are the x axis ends, top/bottom the y axis ends */
function drawPanel(p) {
    let isAge = p.kind == "age"
    let xScale = d3.scaleLinear()
        .domain(isAge ? [15,90] : [15,50])
        .range([p.left, p.right])
    let yScale = d3.scaleLinear()
        .domain([p.yTicks[0], p.yTicks[p.yTicks.length-1]])
        .range([p.bottom, p.top])

    svg.append("g").selectAll("circle")
        .data(p.points)
        .join("circle")
        .attr("cx", d => xScale(d[0]))
        .attr("cy", d => yScale(d[1]))
        .attr("r", 3)
        .attr("fill", "#2f8449")
        .attr("stroke", "#12401f")
        .attr("stroke-width", 0.9)

    /* fit line is a dark bar with a green core */
    svg.append("line")
        .attr("x1", xScale(p.fit[0][0])).attr("y1", yScale(p.fit[0][1]))
        .attr("x2", xScale(p.fit[1][0])).attr("y2", yScale(p.fit[1][1]))
        .attr("stroke", "#0a2411")
        .attr("stroke-width", 7)
    svg.append("line")
        .attr("x1", xScale(p.fit[0][0])).attr("y1", yScale(p.fit[0][1]))
        .attr("x2", xScale(p.fit[1][0])).attr("y2", yScale(p.fit[1][1]))
        .attr("stroke", "#2a7d43")
        .attr("stroke-width", 4.2)

    let xAxis = d3.axisBottom(xScale)
        .tickValues(isAge ? ageTicks : bmiTicks)
        .tickSizeOuter(0)
        .tickSize(4)
        .tickPadding(isAge ? 5 : 8)
    let yAxis = d3.axisLeft(yScale)
        .tickValues(p.yTicks)
        .tickFormat((d,i) => p.yLabels[i])
        .tickSizeOuter(0)
        .tickSize(4)
        .tickPadding(2)

    let gx = svg.append("g").attr("transform", "translate(0," + p.bottom + ")").call(xAxis)
    let gy = svg.append("g").attr("transform", "translate(" + p.left + ",0)").call(yAxis)
    for (let g of [gx, gy]) {
        g.selectAll("path").attr("stroke", "#333").attr("stroke-width", 1.4)
        g.selectAll("line").attr("stroke", "#333").attr("stroke-width", 1.2)
        g.selectAll("text").style("font-size", "16px").style("font-family", "Liberation Sans").attr("fill", "#222")
    }

    /* x label */
    let xMid = (p.left + p.right)/2 + (isAge ? 0 : -1)
    let xlabel = svg.append("text")
        .attr("x", xMid)
        .attr("y", p.bottom + (isAge ? 43 : 47))
        .attr("text-anchor", "middle")
        .attr("font-weight", "bold")
        .attr("font-size", "18px")
    if (isAge) {
        xlabel.text("Age (years)")
    } else {
        xlabel.append("tspan").text("BMI (kg/m ")
        xlabel.append("tspan").attr("dy", -7).attr("font-size", "14px").text("2")
        xlabel.append("tspan").attr("dy", 7).text(")")
    }

    /* y label */
    svg.append("text")
        .attr("transform", "translate(" + (p.left - p.titleGap) + "," + (p.top + p.bottom)/2 + ") rotate(-90)")
        .attr("text-anchor", "middle")
        .attr("font-weight", "bold")
        .attr("font-size", "18px")
        .text(p.yTitle)

    /* panel letter, top row sits just low enough to stay on the page */
    svg.append("text")
        .attr("x", p.letterX)
        .attr("y", p.top + 2)
        .attr("font-weight", "bold")
        .attr("font-size", "28px")
        .style("fill", "#000")
        .text(p.letter)
}

drawPanel({letter:"A", letterX:2, kind:"age", left:62.9, right:256, top:24, bottom:264, titleGap:33, points:ageThickness, fit:fitAgeThickness, yTicks:thicknessTicks, yLabels:thicknessLabels, yTitle:"Cortical Thickness (mm)"})
drawPanel({letter:"B", letterX:257, kind:"age", left:326, right:518, top:24, bottom:264, titleGap:42, points:ageFractal, fit:fitAgeFractal, yTicks:fractalTicks, yLabels:fractalLabels, yTitle:"Fractal Dimensionality"})
drawPanel({letter:"C", letterX:531, kind:"age", left:588.3, right:781, top:24, bottom:264, titleGap:33, points:ageGyrification, fit:fitAgeGyrification, yTicks:gyrificationTicks, yLabels:gyrificationLabels, yTitle:"Gyrification Index"})
drawPanel({letter:"D", letterX:3, kind:"bmi", left:63, right:256, top:357, bottom:596, titleGap:33, points:bmiThickness, fit:fitBmiThickness, yTicks:thicknessTicks, yLabels:thicknessLabels, yTitle:"Cortical Thickness (mm)"})
drawPanel({letter:"E", letterX:257, kind:"bmi", left:326, right:518, top:357, bottom:596, titleGap:42, points:bmiFractal, fit:fitBmiFractal, yTicks:fractalTicks, yLabels:fractalLabels, yTitle:"Fractal Dimensionality"})
drawPanel({letter:"F", letterX:537, kind:"bmi", left:588.3, right:781, top:357, bottom:596, titleGap:33, points:bmiGyrification, fit:fitBmiGyrification, yTicks:gyrificationTicks, yLabels:gyrificationLabels, yTitle:"Gyrification Index"})
</script>
</body>
</html>
